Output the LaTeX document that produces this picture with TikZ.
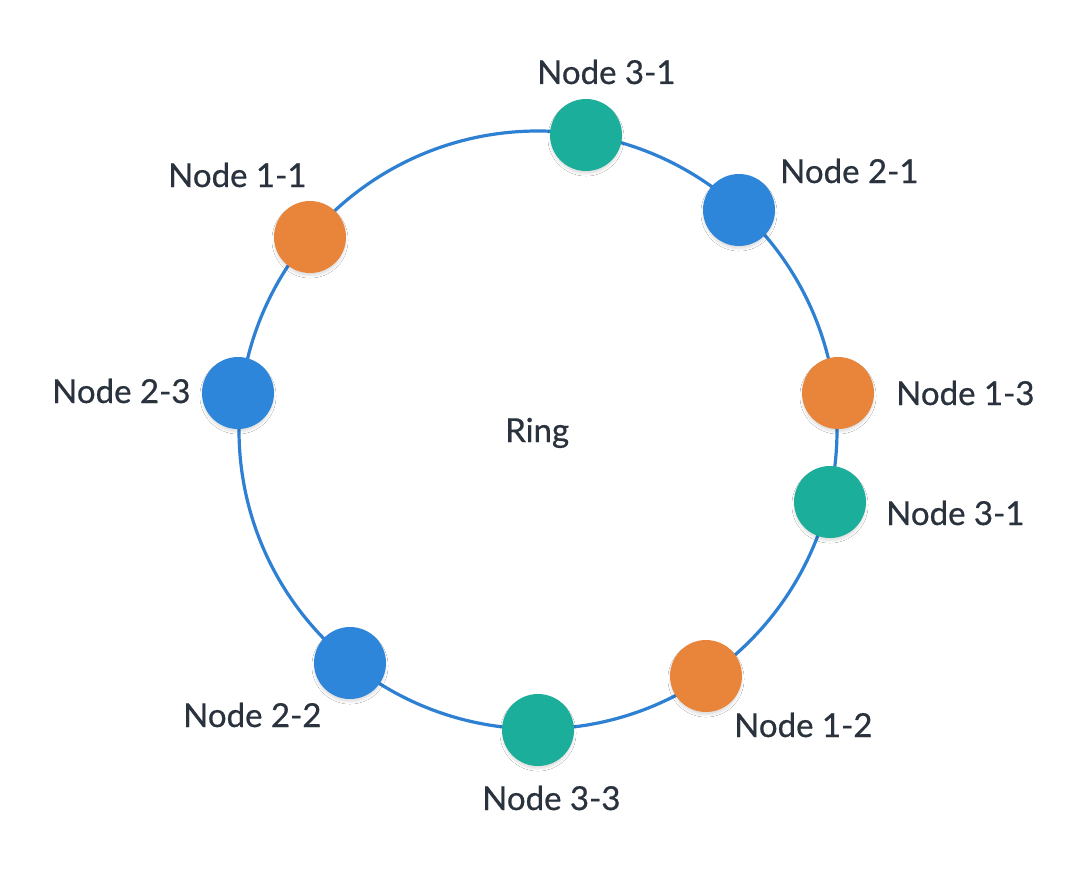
\documentclass[tikz,border=0pt]{standalone}
\usepackage{fontspec}
\setmainfont{Lato}[FakeBold=0.6]
\usetikzlibrary{shadows.blur}
\definecolor{ringblue}{HTML}{2E80D2}
\definecolor{dotblue}{HTML}{2E86DA}
\definecolor{dotgreen}{HTML}{1BAE9A}
\definecolor{dotorange}{HTML}{E8853A}
\definecolor{labelink}{HTML}{29323D}
\tikzset{
  dot/.style={circle, minimum size=72pt, inner sep=0pt, fill=#1,
    blur shadow={shadow xshift=0pt, shadow yshift=-3pt, shadow blur steps=6, shadow opacity=12}},
  lbl/.style={anchor=base west, inner sep=0pt, text=labelink,
    font=\fontsize{33}{36}\selectfont},
}
\begin{document}
\begin{tikzpicture}[x=1pt, y=-1pt]
  \useasboundingbox[fill=white] (0,0) rectangle (1086,872);
  % the ring
  \coordinate (c) at (538,430);
  \draw[ringblue, line width=3.2pt] (c) circle[radius=299pt];
  \node[lbl] (ring) at (505,442) {Ring};
  % members on the ring
  \node[dot=dotgreen]  (n31a) at (586,135) {};
  \node[dot=dotblue]   (n21)  at (739,210) {};
  \node[dot=dotorange] (n13)  at (838,393) {};
  \node[dot=dotgreen]  (n31b) at (830,502) {};
  \node[dot=dotorange] (n12)  at (706,676) {};
  \node[dot=dotgreen]  (n33)  at (538,730) {};
  \node[dot=dotblue]   (n22)  at (350,663) {};
  \node[dot=dotblue]   (n23)  at (238,393) {};
  \node[dot=dotorange] (n11)  at (310,237) {};
  % labels
  \node[lbl] (l31a) at (537,84)  {Node 3-1};
  \node[lbl] (l21)  at (780,183) {Node 2-1};
  \node[lbl] (l13)  at (896,405) {Node 1-3};
  \node[lbl] (l31b) at (886,525) {Node 3-1};
  \node[lbl] (l12)  at (734,737) {Node 1-2};
  \node[lbl] (l33)  at (482,810) {Node 3-3};
  \node[lbl] (l22)  at (183,727) {Node 2-2};
  \node[lbl] (l23)  at (52,403)  {Node 2-3};
  \node[lbl] (l11)  at (168,187) {Node 1-1};
\end{tikzpicture}
\end{document}
